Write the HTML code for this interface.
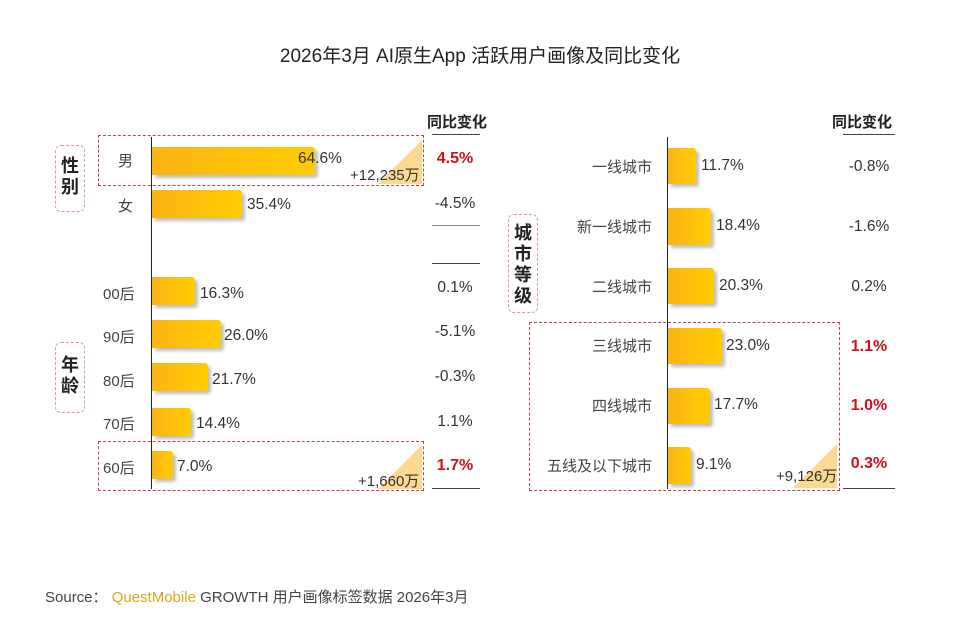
<!DOCTYPE html>
<html><head><meta charset="utf-8"><style>
body{margin:0;width:960px;height:620px;background:#fff;position:relative;overflow:hidden;font-family:"Liberation Sans","Noto Sans CJK SC",sans-serif;color:#333}
.a{position:absolute;white-space:nowrap}
.bar{position:absolute;background:linear-gradient(90deg,#fbb515,#ffcc00);border-radius:0 3px 3px 0;box-shadow:3px 3px 3px rgba(0,0,0,.25)}
.lbl{font-size:15px;color:#444}
.v{font-size:15.5px;color:#333}
.red{color:#d0121b;font-weight:bold}
.box{position:absolute;border:1px dashed #c8424a}
.tag{position:absolute;border:1px dashed #d99;border-radius:6px;font-size:18px;font-weight:bold;color:#222;text-align:center;line-height:21px}
.hl{position:absolute;height:1px;background:#444}
.tri{position:absolute;width:0;height:0;border-left:44px solid transparent;border-bottom:44px solid #fbd990}
</style></head><body>
<div class="a" style="left:0;width:960px;top:41px;text-align:center;font-size:19px;color:#222">2026年3月 AI原生App 活跃用户画像及同比变化</div>

<!-- left -->
<div class="a" style="left:151px;top:137px;width:1px;height:352px;background:#222"></div>
<div class="box" style="left:98px;top:135px;width:324px;height:49px"></div>
<div class="box" style="left:98px;top:441px;width:324px;height:48px"></div>
<div class="tri" style="left:378px;top:140px"></div>
<div class="tri" style="left:378px;top:445px"></div>
<div class="tag" style="left:55px;top:145px;width:30px;height:67px;padding-top:10px;box-sizing:border-box">性<br>别</div>
<div class="tag" style="left:55px;top:342px;width:30px;height:71px;padding-top:12px;box-sizing:border-box">年<br>龄</div>

<div class="bar" style="left:152px;top:147px;width:163px;height:28px"></div>
<div class="a lbl" style="left:118px;top:150px">男</div>
<div class="a v" style="left:298px;top:150px">64.6%</div>
<div class="a v" style="left:350px;top:164px;font-size:15px">+12,235万</div>
<div class="bar" style="left:152px;top:190px;width:90px;height:28px"></div>
<div class="a lbl" style="left:118px;top:195px">女</div>
<div class="a v" style="left:247px;top:196px">35.4%</div>

<div class="bar" style="left:152px;top:277px;width:43px;height:28px"></div>
<div class="a lbl" style="left:103px;top:283px">00后</div><div class="a v" style="left:200px;top:285px">16.3%</div>
<div class="bar" style="left:152px;top:320px;width:69px;height:28px"></div>
<div class="a lbl" style="left:103px;top:326px">90后</div><div class="a v" style="left:224px;top:327px">26.0%</div>
<div class="bar" style="left:152px;top:363px;width:56px;height:28px"></div>
<div class="a lbl" style="left:103px;top:370px">80后</div><div class="a v" style="left:212px;top:371px">21.7%</div>
<div class="bar" style="left:152px;top:408px;width:39px;height:28px"></div>
<div class="a lbl" style="left:103px;top:413px">70后</div><div class="a v" style="left:196px;top:415px">14.4%</div>
<div class="bar" style="left:152px;top:451px;width:21px;height:28px"></div>
<div class="a lbl" style="left:103px;top:457px">60后</div><div class="a v" style="left:177px;top:458px">7.0%</div>
<div class="a v" style="left:358px;top:470px;font-size:15px">+1,660万</div>

<div class="a" style="left:427px;top:111px;font-size:15px;font-weight:bold;color:#222">同比变化</div>
<div class="hl" style="left:432px;top:134px;width:48px"></div>
<div class="a v red" style="left:425px;width:60px;text-align:center;top:150px;font-size:16px">4.5%</div>
<div class="a v" style="left:425px;width:60px;text-align:center;top:195px">-4.5%</div>
<div class="hl" style="left:432px;top:225px;width:48px;background:#888"></div>
<div class="hl" style="left:432px;top:263px;width:48px"></div>
<div class="a v" style="left:425px;width:60px;text-align:center;top:279px">0.1%</div>
<div class="a v" style="left:425px;width:60px;text-align:center;top:323px">-5.1%</div>
<div class="a v" style="left:425px;width:60px;text-align:center;top:368px">-0.3%</div>
<div class="a v" style="left:425px;width:60px;text-align:center;top:413px">1.1%</div>
<div class="a v red" style="left:425px;width:60px;text-align:center;top:457px;font-size:16px">1.7%</div>
<div class="hl" style="left:432px;top:488px;width:48px"></div>

<!-- right -->
<div class="a" style="left:667px;top:137px;width:1px;height:352px;background:#222"></div>
<div class="box" style="left:529px;top:322px;width:309px;height:167px"></div>
<div class="tri" style="left:793px;top:444px"></div>
<div class="tag" style="left:508px;top:214px;width:30px;height:99px;padding-top:8px;box-sizing:border-box">城<br>市<br>等<br>级</div>

<div class="bar" style="left:668px;top:148px;width:28px;height:36px"></div>
<div class="a lbl" style="right:308px;top:156px">一线城市</div><div class="a v" style="left:701px;top:157px">11.7%</div>
<div class="bar" style="left:668px;top:208px;width:43px;height:37px"></div>
<div class="a lbl" style="right:308px;top:216px">新一线城市</div><div class="a v" style="left:716px;top:217px">18.4%</div>
<div class="bar" style="left:668px;top:268px;width:46px;height:36px"></div>
<div class="a lbl" style="right:308px;top:276px">二线城市</div><div class="a v" style="left:719px;top:277px">20.3%</div>
<div class="bar" style="left:668px;top:328px;width:54px;height:36px"></div>
<div class="a lbl" style="right:308px;top:335px">三线城市</div><div class="a v" style="left:726px;top:337px">23.0%</div>
<div class="bar" style="left:668px;top:388px;width:42px;height:36px"></div>
<div class="a lbl" style="right:308px;top:395px">四线城市</div><div class="a v" style="left:714px;top:396px">17.7%</div>
<div class="bar" style="left:668px;top:447px;width:23px;height:37px"></div>
<div class="a lbl" style="right:308px;top:455px">五线及以下城市</div><div class="a v" style="left:696px;top:456px">9.1%</div>
<div class="a v" style="left:776px;top:465px;font-size:15px">+9,126万</div>

<div class="a" style="left:832px;top:111px;font-size:15px;font-weight:bold;color:#222">同比变化</div>
<div class="hl" style="left:843px;top:134px;width:52px"></div>
<div class="a v" style="left:839px;width:60px;text-align:center;top:158px">-0.8%</div>
<div class="a v" style="left:839px;width:60px;text-align:center;top:218px">-1.6%</div>
<div class="a v" style="left:839px;width:60px;text-align:center;top:278px">0.2%</div>
<div class="a v red" style="left:839px;width:60px;text-align:center;top:338px;font-size:16px">1.1%</div>
<div class="a v red" style="left:839px;width:60px;text-align:center;top:397px;font-size:16px">1.0%</div>
<div class="a v red" style="left:839px;width:60px;text-align:center;top:455px;font-size:16px">0.3%</div>
<div class="hl" style="left:843px;top:488px;width:52px"></div>

<div class="a" style="left:45px;top:586px;font-size:15px;color:#444">Source：&nbsp;<span style="color:#e8a21a">QuestMobile</span> GROWTH 用户画像标签数据 2026年3月</div>
</body></html>
